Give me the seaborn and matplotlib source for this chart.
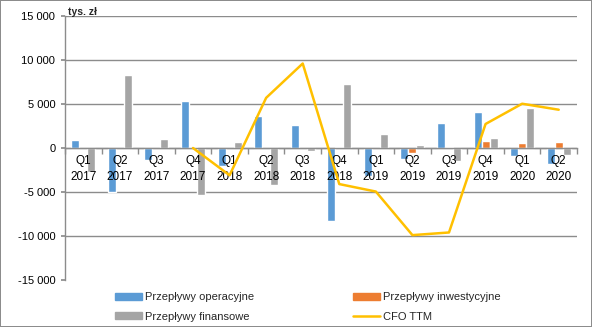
import matplotlib
matplotlib.use("Agg")
import matplotlib.pyplot as plt
import seaborn as sns
import pandas as pd
import numpy as np
from matplotlib.ticker import FuncFormatter, FixedLocator
from matplotlib.patches import Patch
from matplotlib.lines import Line2D

quarters = ["Q1\n2017", "Q2\n2017", "Q3\n2017", "Q4\n2017",
            "Q1\n2018", "Q2\n2018", "Q3\n2018", "Q4\n2018",
            "Q1\n2019", "Q2\n2019", "Q3\n2019", "Q4\n2019",
            "Q1\n2020", "Q2\n2020"]
operacyjne = [900, -5000, -1400, 5350, -2000, 3600, 2600, -8250,
              -3150, -1250, 2850, 4100, -870, -1780]
inwestycyjne = [0, 0, 0, 100, 0, 0, 0, 150, 0, -530, 100, 800, 570, 680]
finansowe = [-2700, 8300, 1000, -5300, 700, -4200, -300, 7270,
             1600, 340, -1440, 1140, 4540, -760]
cfo_ttm_quarters_idx = [3, 4, 5, 6, 7, 8, 9, 10, 11, 12, 13]
cfo_ttm = [0, -3100, 5700, 9600, -4100, -4950, -9900, -9600, 2730, 5030, 4350]

series_names = ["Przepływy operacyjne", "Przepływy inwestycyjne", "Przepływy finansowe"]
colors = ["#5B9BD5", "#ED7D31", "#A5A5A5"]
line_color = "#FFC000"
grid_color = "#8C8C8C"

sns.set_theme(style="white")
plt.rcParams["font.family"] = ["Liberation Sans", "DejaVu Sans"]

df = pd.DataFrame({
    "kwartal": quarters * 3,
    "seria": sum([[n] * len(quarters) for n in series_names], []),
    "wartosc": operacyjne + inwestycyjne + finansowe,
})

fig = plt.figure(figsize=(5.92, 3.27), dpi=100, linewidth=1.2, edgecolor="#8C8C8C")
ax = fig.add_axes([65/592, 1-280/327, (577-65)/592, (280-16)/327])

sns.barplot(data=df, x="kwartal", y="wartosc", hue="seria", order=quarters,
            hue_order=series_names, palette=colors, width=0.66, ax=ax,
            legend=False, saturation=1, errorbar=None, zorder=2)
sns.lineplot(x=cfo_ttm_quarters_idx, y=cfo_ttm, color=line_color, lw=1.8, ax=ax, zorder=4)

ax.set_ylim(-15000, 15000)
ax.set_xlim(-0.5, len(quarters) - 0.5)
ax.set_yticks(np.arange(-15000, 15001, 5000))
ax.yaxis.set_major_formatter(FuncFormatter(lambda v, p: f"{int(v):,}".replace(",", " ")))
ax.set_xlabel("")
ax.set_ylabel("")

for s in ["top", "right"]:
    ax.spines[s].set_visible(False)
ax.spines["left"].set_color(grid_color)
ax.spines["left"].set_linewidth(1)
ax.spines["bottom"].set_position(("data", 0))
ax.spines["bottom"].set_color(grid_color)
ax.spines["bottom"].set_linewidth(1)

ax.yaxis.grid(True, color=grid_color, lw=1)
ax.set_axisbelow(True)
ax.xaxis.set_zorder(3)
gl = ax.get_ygridlines()
gl[0].set_visible(False)

ax.tick_params(axis="y", which="major", left=True, length=3, color=grid_color,
               labelsize=8, pad=4, labelcolor="#000000")
ax.xaxis.set_minor_locator(FixedLocator(np.arange(-0.5, len(quarters), 1.0)))
ax.tick_params(axis="x", which="minor", bottom=True, length=4, color=grid_color, direction="out")
ax.tick_params(axis="x", which="major", length=0, labelsize=8.5, pad=5, labelcolor="#000000")
for lbl in ax.get_xticklabels():
    lbl.set_linespacing(1.5)

fig.text(68/592, 1-12/327, "tys. zł", fontsize=7.5, fontweight="bold", va="center", ha="left")

handles = [Patch(color=colors[0]), Patch(color=colors[2]),
           Patch(color=colors[1]), Line2D([], [], color=line_color, lw=1.8)]
labels = ["Przepływy operacyjne", "Przepływy finansowe",
          "Przepływy inwestycyjne", "CFO TTM"]
fig.legend(handles, labels, ncol=2, loc="center left", bbox_to_anchor=(105/592, 1-307/327),
           frameon=False, fontsize=8, handlelength=2.4, handleheight=0.55,
           handletextpad=0.3, columnspacing=8.9, labelspacing=0.85)

fig.savefig("out.png", dpi=100)
